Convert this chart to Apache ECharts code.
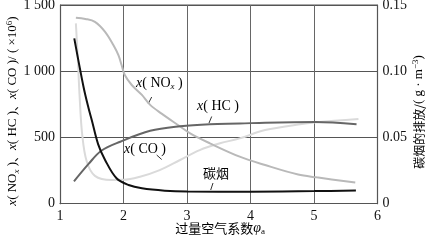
<!DOCTYPE html>
<html><head><meta charset="utf-8">
<script src="https://cdn.jsdelivr.net/npm/echarts@6/dist/echarts.min.js"></script>
<style>html,body{margin:0;padding:0;background:#fff}#c{width:427px;height:241px}</style>
</head><body><div id="c"></div>
<script>
var xTicks = [1, 2, 3, 4, 5, 6];
var leftTicks = ['0', '500', '1 000', '1 500'];
var rightTicks = ['0', '0.05', '0.10', '0.15'];

var noxPhi = [1.25, 1.4, 1.55, 1.71, 1.84, 1.92, 1.97, 2.02, 2.13, 2.29, 2.42, 2.6, 2.84, 3.05, 3.36, 3.83, 4.23, 4.75, 5.04, 5.65];
var noxVal = [1404, 1395, 1373, 1298, 1198, 1122, 1047, 971, 896, 821, 746, 680, 600, 531, 456, 355, 292, 220, 199, 160];

var hcPhi = [1.22, 1.45, 1.65, 1.95, 2.42, 2.89, 3.36, 3.83, 4.23, 5.02, 5.67];
var hcVal = [168, 300, 400, 468, 550, 584, 600, 605, 612, 617, 600];

var coPhi = [1.25, 1.28, 1.31, 1.35, 1.42, 1.55, 1.81, 2.0, 2.26, 2.57, 2.89, 3.2, 3.52, 3.83, 4.23, 4.78, 5.04, 5.7];
var coVal = [1361, 1100, 800, 520, 320, 210, 179, 180, 204, 254, 330, 405, 456, 493, 556, 600, 614, 639];

var sootPhi = [1.225, 1.37, 1.45, 1.5, 1.6, 1.71, 1.89, 2.08, 2.29, 2.65, 3.0, 4.0, 5.0, 5.66];
var sootVal = [0.1248, 0.0883, 0.072, 0.0632, 0.045, 0.033, 0.0192, 0.0141, 0.0116, 0.0098, 0.0092, 0.0091, 0.0095, 0.0100];

function pairs(xs, ys) { return xs.map(function (x, i) { return [x, ys[i]]; }); }

var serif = 'Liberation Serif, DejaVu Serif, serif';
var cjk = 'Noto Sans CJK SC, sans-serif';
var rich = {
  i: { fontStyle: 'italic', fontFamily: serif, fontSize: 14, color: '#111' },
  t: { fontFamily: serif, fontSize: 14, color: '#111' },
  c: { fontFamily: cjk, fontSize: 13, color: '#111' },
  sub: { fontStyle: 'italic', fontFamily: serif, fontSize: 9, color: '#111', padding: [8, 0, 0, 0] },
  subn: { fontFamily: serif, fontSize: 9, color: '#111', padding: [8, 0, 0, 0] },
  sup: { fontFamily: serif, fontSize: 9, color: '#111', padding: [0, 0, 8, 0] }
};
var richS = {
  i: { fontStyle: 'italic', fontFamily: serif, fontSize: 13, color: '#111' },
  t: { fontFamily: serif, fontSize: 13, color: '#111' },
  c: { fontFamily: cjk, fontSize: 12, color: '#111' },
  sub: { fontStyle: 'italic', fontFamily: serif, fontSize: 9, color: '#111', padding: [7, 0, 0, 0] },
  sup: { fontFamily: serif, fontSize: 9, color: '#111', padding: [0, 0, 7, 0] }
};

var chart = echarts.init(document.getElementById('c'), null, { renderer: 'canvas' });
chart.setOption({
  animation: false,
  backgroundColor: '#fff',
  grid: { left: 60, right: 49.5, top: 5, bottom: 37.3, show: false, containLabel: false, outerBoundsMode: 'none' },
  xAxis: {
    type: 'value', min: 1, max: 6, interval: 1,
    axisLine: { show: true, onZero: false, lineStyle: { color: '#555', width: 1.2 } },
    axisTick: { show: false },
    axisLabel: { fontFamily: serif, fontSize: 14, color: '#111', margin: 6,
      formatter: function (v) { return String(v); } },
    splitLine: { show: true, lineStyle: { color: '#666', width: 1 } }
  },
  yAxis: [{
    type: 'value', min: 0, max: 1500, interval: 500, position: 'left',
    axisLine: { show: true, lineStyle: { color: '#555', width: 1.2 } },
    axisTick: { show: false },
    axisLabel: { fontFamily: serif, fontSize: 14, color: '#111', margin: 5,
      formatter: function (v) { return leftTicks[Math.round(v / 500)]; } },
    splitLine: { show: true, lineStyle: { color: '#555', width: 1 } }
  }, {
    type: 'value', min: 0, max: 0.15, interval: 0.05, position: 'right',
    axisLine: { show: true, lineStyle: { color: '#555', width: 1.2 } },
    axisTick: { show: false },
    axisLabel: { fontFamily: serif, fontSize: 14, color: '#111', margin: 5,
      formatter: function (v) { return rightTicks[Math.round(v / 0.05)]; } },
    splitLine: { show: false }
  }],
  series: [
    { type: 'line', name: 'NOx', data: pairs(noxPhi, noxVal), showSymbol: false, smooth: 0.35,
      lineStyle: { width: 2, color: '#b9b9b9' }, z: 3 },
    { type: 'line', name: 'CO', data: pairs(coPhi, coVal), showSymbol: false, smooth: 0.35,
      lineStyle: { width: 2, color: '#dadada' }, z: 2 },
    { type: 'line', name: 'HC', data: pairs(hcPhi, hcVal), showSymbol: false, smooth: 0.35,
      lineStyle: { width: 2, color: '#666' }, z: 4 },
    { type: 'line', name: 'soot', yAxisIndex: 1, data: pairs(sootPhi, sootVal), showSymbol: false, smooth: 0.35,
      lineStyle: { width: 2, color: '#111' }, z: 5 }
  ],
  graphic: [
    { type: 'line', shape: { x1: 60, y1: 5, x2: 377.5, y2: 5 }, style: { stroke: '#555', lineWidth: 1.2 } },
    { type: 'text', x: 13, y: 111, rotation: Math.PI / 2,
      style: { text: '{i|x}{t|( NO}{sub|x}{t| )}{c|、}{i|x}{t|( HC )}{c|、}{i|x}{t|( CO )/ ( ×10}{sup|6}{t|)}',
        rich: richS, align: 'center', verticalAlign: 'middle' } },
    { type: 'text', x: 419, y: 112, rotation: Math.PI / 2,
      style: { text: '{c|碳烟的排放/}{t|( g · m}{sup|−3}{t|)}', rich: richS, align: 'center', verticalAlign: 'middle' } },
    { type: 'text', x: 220, y: 228,
      style: { text: '{c|过量空气系数}{i|φ}{subn|a}', rich: rich, align: 'center', verticalAlign: 'middle' } },
    { type: 'text', left: 136, top: 76, style: { text: '{i|x}{t|( NO}{sub|x}{t| )}', rich: rich } },
    { type: 'line', shape: { x1: 151.7, y1: 97, x2: 148.3, y2: 103.5 }, style: { stroke: '#333', lineWidth: 1 } },
    { type: 'text', left: 197, top: 99, style: { text: '{i|x}{t|( HC )}', rich: rich } },
    { type: 'line', shape: { x1: 211.7, y1: 116.5, x2: 209, y2: 123 }, style: { stroke: '#333', lineWidth: 1 } },
    { type: 'text', left: 124, top: 142, style: { text: '{i|x}{t|( CO )}', rich: rich } },
    { type: 'line', shape: { x1: 156.7, y1: 155, x2: 161.7, y2: 159.5 }, style: { stroke: '#333', lineWidth: 1 } },
    { type: 'text', left: 203, top: 167, style: { text: '{c|碳烟}', rich: rich } },
    { type: 'line', shape: { x1: 213, y1: 183, x2: 210.7, y2: 190 }, style: { stroke: '#333', lineWidth: 1 } }
  ]
});
</script></body></html>
